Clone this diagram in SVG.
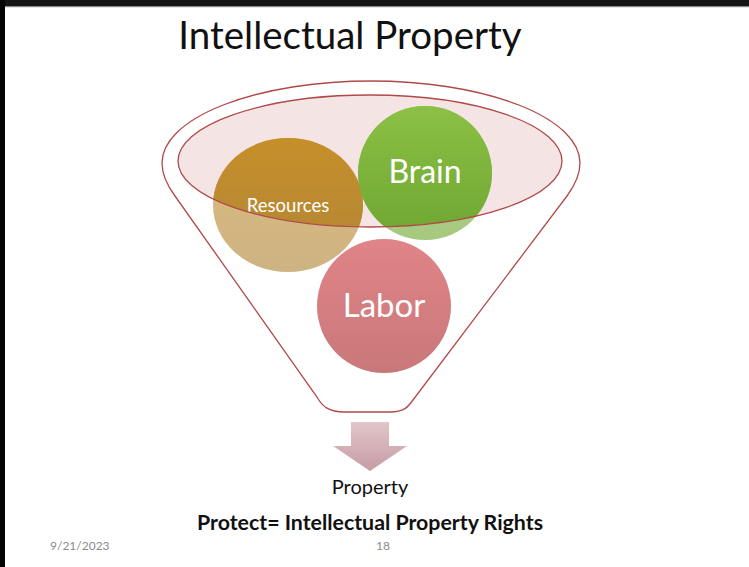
<svg xmlns="http://www.w3.org/2000/svg" width="749" height="567" viewBox="0 0 749 567">
<style>
.lbl{font-family:Lato,"Open Sans","Liberation Sans",sans-serif;text-anchor:middle}
.w{fill:#ffffff}
.funnel{fill:none;stroke:#b04a4a;stroke-width:1.3}
.foot{font-family:Lato,"Liberation Sans",sans-serif;font-size:12px;fill:#8c8c8c}
</style>
<defs>
<clipPath id="inEll"><ellipse cx="370" cy="161" rx="192" ry="66"/></clipPath>
<linearGradient id="gRes" x1="0" y1="0" x2="0" y2="1"><stop offset="0" stop-color="#c68f2a"/><stop offset="1" stop-color="#b08537"/></linearGradient>
<linearGradient id="gBrain" x1="0" y1="0" x2="0" y2="1"><stop offset="0" stop-color="#8cc046"/><stop offset="1" stop-color="#6ea631"/></linearGradient>
<linearGradient id="gLabor" x1="0" y1="0" x2="0" y2="1"><stop offset="0" stop-color="#e08487"/><stop offset="1" stop-color="#c9787a"/></linearGradient>
<linearGradient id="gArrow" x1="0" y1="0" x2="0" y2="1"><stop offset="0" stop-color="#e2c6c8"/><stop offset="1" stop-color="#c69ba6"/></linearGradient>
</defs>
<rect x="0" y="0" width="749" height="567" fill="#ffffff"/>
<rect x="0" y="0" width="749" height="6" fill="#151515"/>
<rect x="0" y="6" width="749" height="1.2" fill="#8a8a8a"/>
<rect x="0" y="0" width="5" height="567" fill="#050505"/>
<text class="lbl" x="350" y="49" font-size="38.5" fill="#111">Intellectual Property</text>
<g id="funnel">
<path class="funnel" d="M 175,196 C 167,185 162,175 162,163 A 209 82 0 0 1 580,163 C 580,175 575,185 567,196 L 413,400 C 408,407 404,412 390,412 L 345,412 C 328,412 322,406 317,397 Z"/>
<ellipse cx="370" cy="161" rx="192" ry="66" fill="#f5e4e4"/>
</g>
<g id="resources">
<ellipse cx="288" cy="205" rx="75" ry="67" fill="url(#gRes)" opacity="0.62"/>
<ellipse cx="288" cy="205" rx="75" ry="67" fill="url(#gRes)" clip-path="url(#inEll)"/>
<text class="lbl w" x="288" y="212" font-size="18.5">Resources</text>
</g>
<g id="brain">
<circle cx="425" cy="173" r="67" fill="url(#gBrain)" opacity="0.62"/>
<circle cx="425" cy="173" r="67" fill="url(#gBrain)" clip-path="url(#inEll)"/>
<text class="lbl w" x="425" y="183" font-size="32">Brain</text>
</g>
<g id="labor">
<circle cx="384" cy="306" r="67" fill="url(#gLabor)"/>
<text class="lbl w" x="384" y="317" font-size="33">Labor</text>
</g>
<g id="connectors">
<ellipse cx="370" cy="161" rx="192" ry="66" fill="none" stroke="#b04a4a" stroke-width="1.3"/>
<polygon points="351,422 389,422 389,446 407,446 370,471 333,446 351,446" fill="url(#gArrow)"/>
</g>
<g id="property">
<text class="lbl" x="370" y="494" font-size="20" fill="#111">Property</text>
</g>
<g id="protect">
<text class="lbl" x="370" y="530" font-size="20.5" font-weight="bold" fill="#111" textLength="346" lengthAdjust="spacingAndGlyphs">Protect= Intellectual Property Rights</text>
</g>
<text class="foot" x="50" y="550">9/21/2023</text>
<text class="foot" x="383" y="550" text-anchor="middle">18</text>
</svg>
